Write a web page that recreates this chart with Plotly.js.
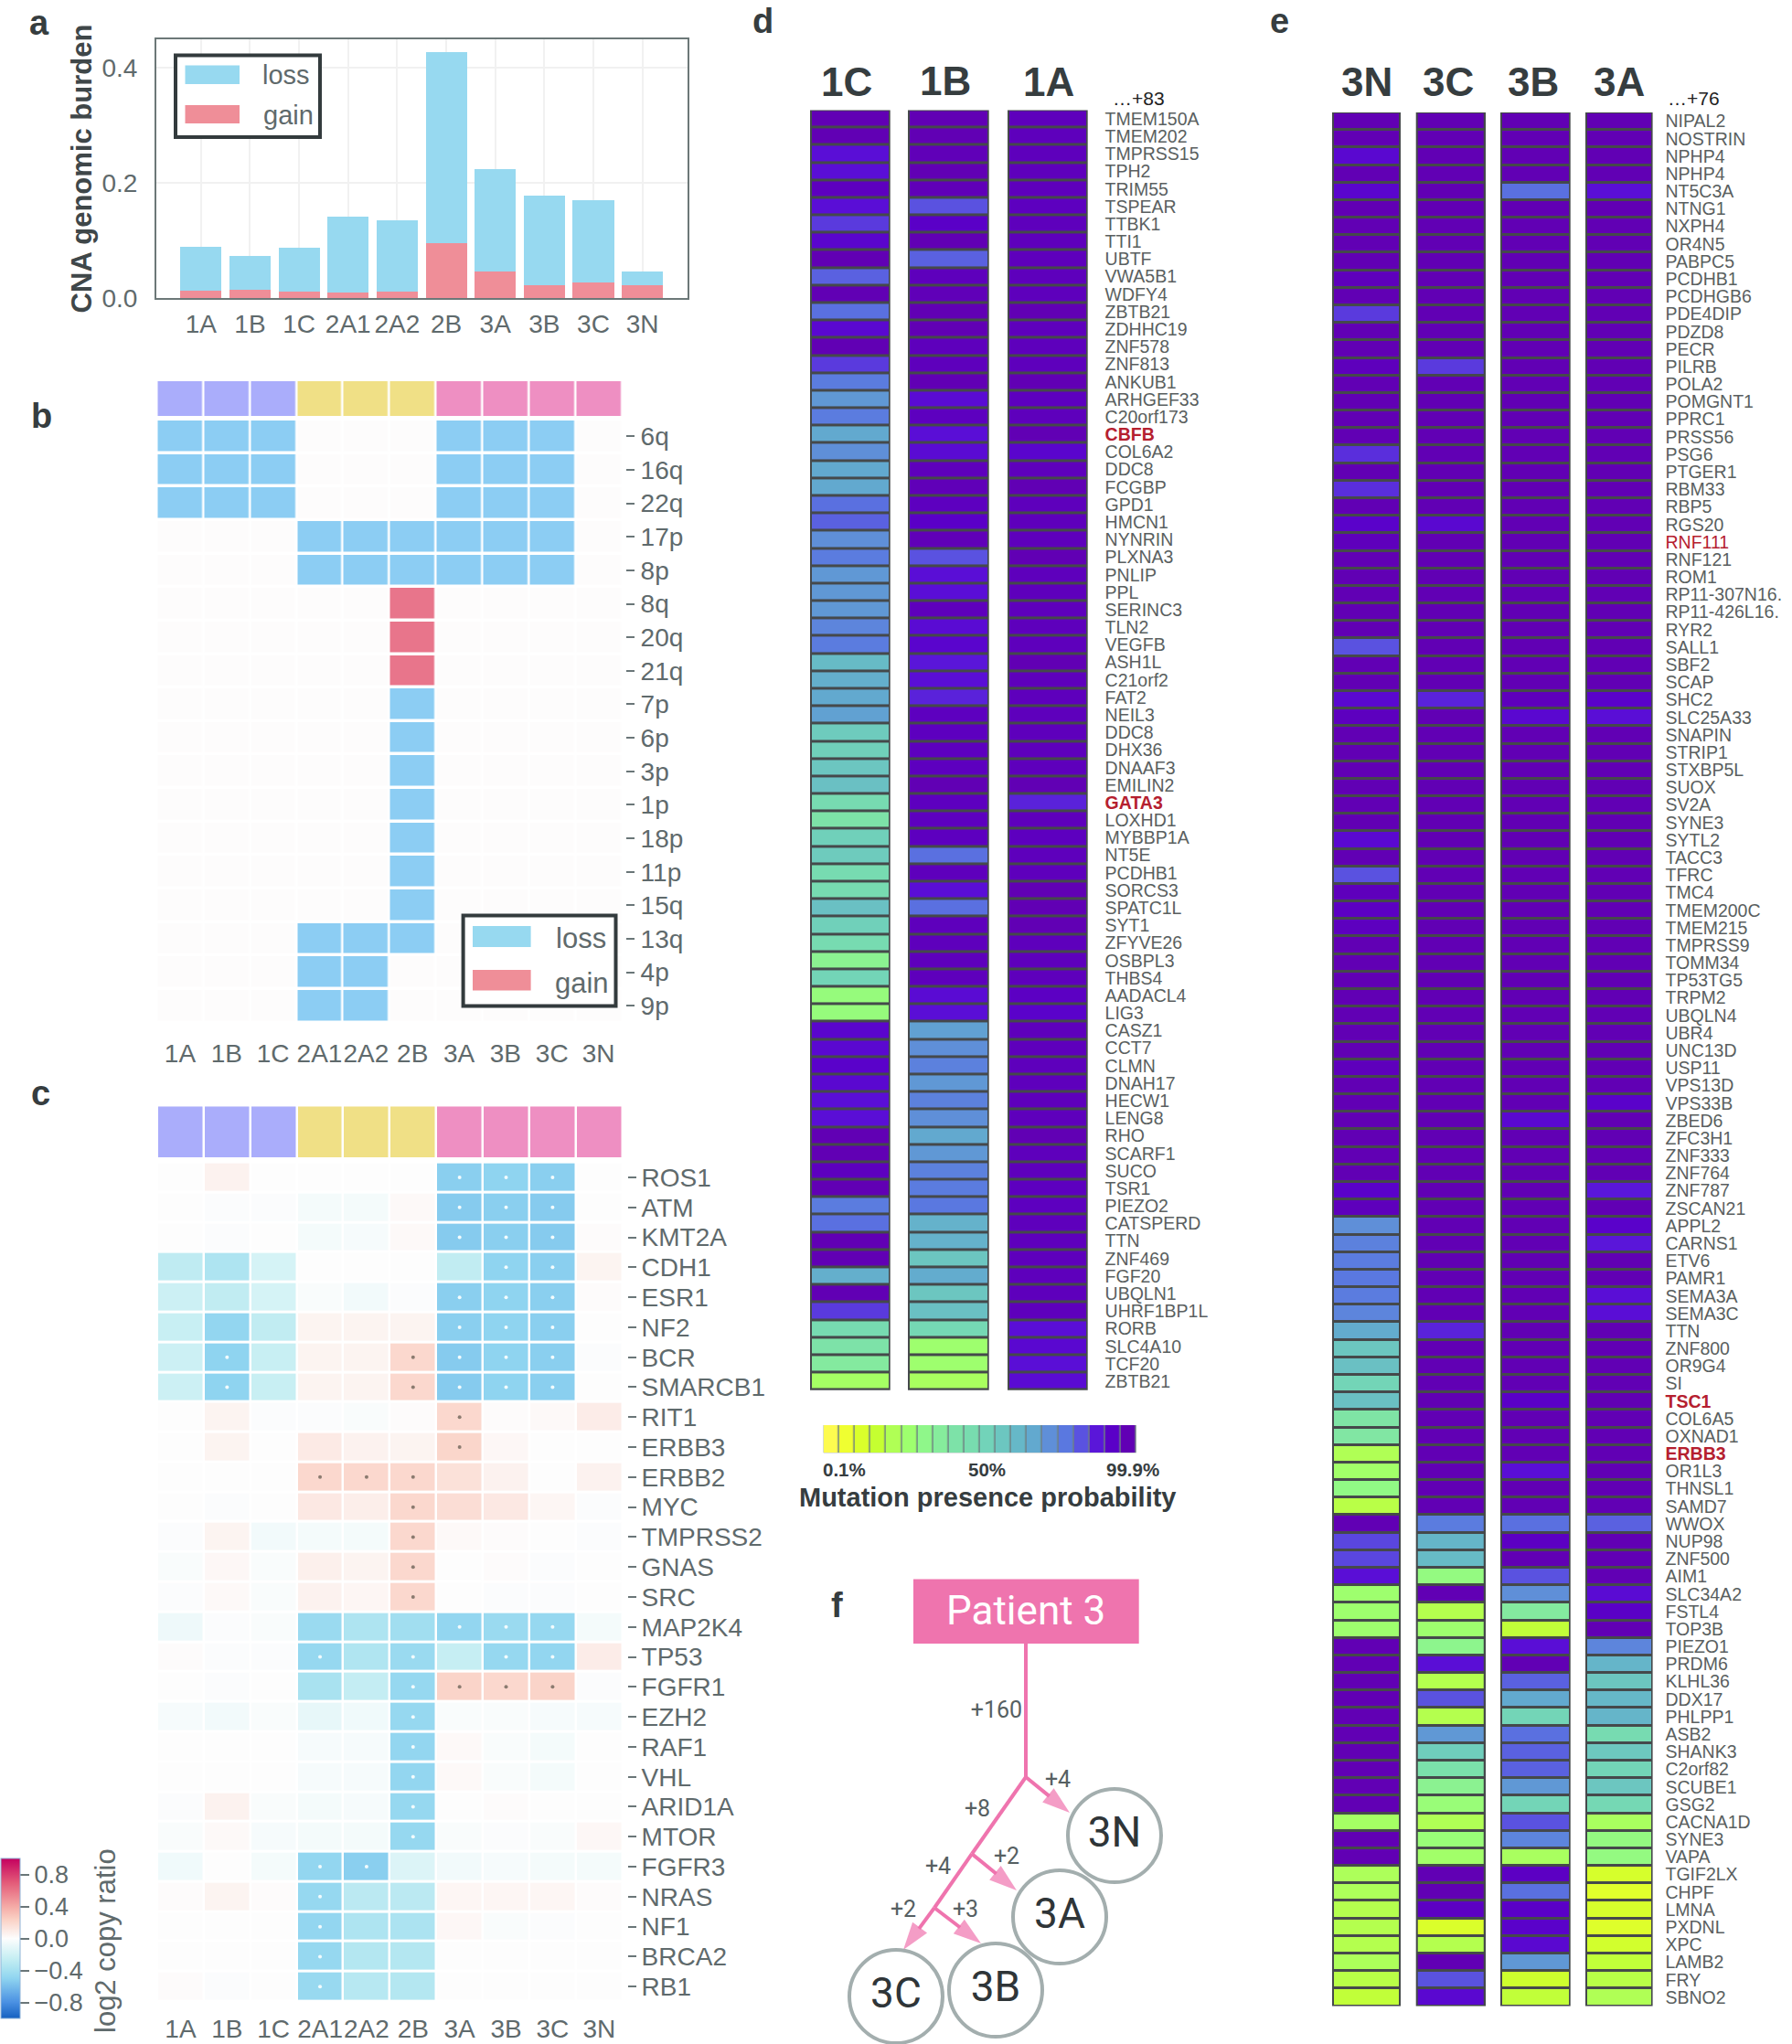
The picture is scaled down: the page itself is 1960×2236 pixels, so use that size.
<!DOCTYPE html>
<html>
<head>
<meta charset="utf-8">
<script src="https://cdn.plot.ly/plotly-3.0.1.min.js"></script>
<style>html,body{margin:0;padding:0;background:#fff}</style>
</head>
<body>
<div id="chart" style="width:1960px;height:2236px"></div>
<script>
const W = 1960, H = 2236;
const FONT = '"Liberation Sans", Arial, sans-serif';
const GREY = '#5f6a6c', DARK = '#363d3f';

// a: CNA burden
const samples = ['1A', '1B', '1C', '2A1', '2A2', '2B', '3A', '3B', '3C', '3N'];
const burdenGain = [0.0125, 0.0138, 0.0113, 0.0094, 0.0113, 0.095, 0.046, 0.0226, 0.027, 0.022];
const burdenLoss = [0.0765, 0.0592, 0.0767, 0.1316, 0.1237, 0.332, 0.178, 0.1544, 0.143, 0.024];

// patient group strip above b and c
const groups = [1, 1, 1, 2, 2, 2, 3, 3, 3, 3];
const groupColors = ['#aaadfb', '#f0e086', '#ee8fc2'];

// b: arm level calls, -1 loss, 1 gain
const arms = ['6q', '16q', '22q', '17p', '8p', '8q', '20q', '21q', '7p', '6p', '3p', '1p', '18p', '11p', '15q', '13q', '4p', '9p'];
const armCalls = [
  [-1, -1, -1, 0, 0, 0, -1, -1, -1, 0],
  [-1, -1, -1, 0, 0, 0, -1, -1, -1, 0],
  [-1, -1, -1, 0, 0, 0, -1, -1, -1, 0],
  [0, 0, 0, -1, -1, -1, -1, -1, -1, 0],
  [0, 0, 0, -1, -1, -1, -1, -1, -1, 0],
  [0, 0, 0, 0, 0, 1, 0, 0, 0, 0],
  [0, 0, 0, 0, 0, 1, 0, 0, 0, 0],
  [0, 0, 0, 0, 0, 1, 0, 0, 0, 0],
  [0, 0, 0, 0, 0, -1, 0, 0, 0, 0],
  [0, 0, 0, 0, 0, -1, 0, 0, 0, 0],
  [0, 0, 0, 0, 0, -1, 0, 0, 0, 0],
  [0, 0, 0, 0, 0, -1, 0, 0, 0, 0],
  [0, 0, 0, 0, 0, -1, 0, 0, 0, 0],
  [0, 0, 0, 0, 0, -1, 0, 0, 0, 0],
  [0, 0, 0, 0, 0, -1, 0, 0, 0, 0],
  [0, 0, 0, -1, -1, -1, 0, 0, 0, 0],
  [0, 0, 0, -1, -1, 0, 0, 0, 0, 0],
  [0, 0, 0, -1, -1, 0, 0, 0, 0, 0]
];

// c: gene level log2 copy ratio
const genes = ['ROS1', 'ATM', 'KMT2A', 'CDH1', 'ESR1', 'NF2', 'BCR', 'SMARCB1', 'RIT1', 'ERBB3', 'ERBB2', 'MYC', 'TMPRSS2', 'GNAS', 'SRC', 'MAP2K4', 'TP53', 'FGFR1', 'EZH2', 'RAF1', 'VHL', 'ARID1A', 'MTOR', 'FGFR3', 'NRAS', 'NF1', 'BRCA2', 'RB1'];
const copyRatio = [
  [0, .06, 0, 0, 0, 0, -.52, -.5, -.52, 0],
  [0, -.01, -.01, -.04, -.04, .02, -.54, -.52, -.54, 0],
  [0, -.01, 0, -.04, -.03, .02, -.54, -.52, -.54, .01],
  [-.28, -.36, -.18, 0, 0, 0, -.27, -.5, -.52, .05],
  [-.22, -.27, -.18, -.02, -.05, -.01, -.52, -.5, -.52, .01],
  [-.24, -.48, -.27, .05, .05, .05, -.52, -.5, -.52, 0],
  [-.22, -.5, -.24, .05, .05, .2, -.54, -.5, -.52, -.01],
  [-.22, -.5, -.24, .05, .05, .2, -.54, -.5, -.52, 0],
  [0, .05, -.01, -.01, -.02, .01, .2, .01, .02, .09],
  [0, .05, 0, .1, .06, .05, .21, .03, 0, 0],
  [0, 0, 0, .2, .2, .2, .15, .06, 0, .06],
  [0, -.01, 0, .11, .08, .2, .17, .11, .04, -.01],
  [-.01, .05, -.05, -.04, -.04, .2, .02, .01, 0, -.01],
  [-.02, .03, -.02, .07, .05, .2, 0, .01, -.01, 0],
  [-.01, .02, -.02, .06, .04, .2, 0, -.01, -.01, 0],
  [-.07, -.01, -.02, -.45, -.36, -.42, -.48, -.45, -.47, -.04],
  [.01, -.01, -.01, -.47, -.35, -.45, -.25, -.47, -.48, .09],
  [0, -.01, 0, -.38, -.26, -.47, .22, .2, .22, -.01],
  [-.03, -.05, -.02, -.1, -.06, -.47, -.02, -.02, -.03, -.03],
  [0, 0, 0, -.03, -.03, -.48, .02, -.02, -.04, 0],
  [0, 0, 0, -.03, -.03, -.48, .02, -.02, -.04, 0],
  [-.01, .06, -.02, -.04, -.03, -.47, 0, .01, 0, 0],
  [-.02, .02, -.03, -.04, -.04, -.47, -.02, -.01, -.02, .03],
  [-.06, 0, -.04, -.48, -.52, -.15, -.05, -.03, -.04, -.04],
  [.01, .05, .01, -.47, -.3, -.3, .04, .04, .04, .01],
  [0, 0, 0, -.48, -.36, -.37, .03, -.02, -.01, 0],
  [0, 0, 0, -.47, -.33, -.33, 0, 0, 0, 0],
  [.01, -.01, 0, -.46, -.32, -.33, 0, 0, 0, 0]
];
// significant cells, per gene the samples holding a dot
const sigGenes = ['ROS1', 'ATM', 'KMT2A', 'CDH1', 'ESR1', 'NF2', 'BCR', 'SMARCB1', 'RIT1', 'ERBB3', 'ERBB2', 'MYC', 'TMPRSS2', 'GNAS', 'SRC', 'MAP2K4', 'TP53', 'FGFR1', 'EZH2', 'RAF1', 'VHL', 'ARID1A', 'MTOR', 'FGFR3', 'NRAS', 'NF1', 'BRCA2', 'RB1'];
const sigSamples = [
  ['3A', '3B', '3C'], ['3A', '3B', '3C'], ['3A', '3B', '3C'], ['3B', '3C'], ['3A', '3B', '3C'], ['3A', '3B', '3C'],
  ['1B', '2B', '3A', '3B', '3C'], ['1B', '2B', '3A', '3B', '3C'], ['3A'], ['3A'], ['2A1', '2A2', '2B'], ['2B'], ['2B'], ['2B'], ['2B'],
  ['3A', '3B', '3C'], ['2A1', '2B', '3B', '3C'], ['2B', '3A', '3B', '3C'], ['2B'], ['2B'], ['2B'], ['2B'], ['2B'],
  ['2A1', '2A2'], ['2A1'], ['2A1'], ['2A1'], ['2A1']
];
const ratioColors = [[0, '#1460c0'], [0.1, '#4a90e2'], [0.25, '#8fd4f0'], [0.3, '#a5e0f0'], [0.38, '#c8eff3'], [0.5, '#fdfdfd'], [0.62, '#fad0c4'], [0.7, '#f4aaa6'], [0.85, '#e35a78'], [1, '#c4005f']];

// d: patient 1 mutations
const genesD = ['TMEM150A', 'TMEM202', 'TMPRSS15', 'TPH2', 'TRIM55', 'TSPEAR', 'TTBK1', 'TTI1', 'UBTF', 'VWA5B1', 'WDFY4', 'ZBTB21', 'ZDHHC19', 'ZNF578', 'ZNF813', 'ANKUB1', 'ARHGEF33', 'C20orf173', '<b><span style="color:#b5202f">CBFB</span></b>', 'COL6A2', 'DDC8', 'FCGBP', 'GPD1', 'HMCN1', 'NYNRIN', 'PLXNA3', 'PNLIP', 'PPL', 'SERINC3', 'TLN2', 'VEGFB', 'ASH1L', 'C21orf2', 'FAT2', 'NEIL3', 'DDC8', 'DHX36', 'DNAAF3', 'EMILIN2', '<b><span style="color:#b5202f">GATA3</span></b>', 'LOXHD1', 'MYBBP1A', 'NT5E', 'PCDHB1', 'SORCS3', 'SPATC1L', 'SYT1', 'ZFYVE26', 'OSBPL3', 'THBS4', 'AADACL4', 'LIG3', 'CASZ1', 'CCT7', 'CLMN', 'DNAH17', 'HECW1', 'LENG8', 'RHO', 'SCARF1', 'SUCO', 'TSR1', 'PIEZO2', 'CATSPERD', 'TTN', 'ZNF469', 'FGF20', 'UBQLN1', 'UHRF1BP1L', 'RORB', 'SLC4A10', 'TCF20', 'ZBTB21'];
const prob1C = [
  100, 100, 90, 90, 97, 90, 86, 93, 100, 82,
  100, 80, 92, 100, 86, 78, 72, 78, 68, 74,
  68, 68, 80, 82, 74, 78, 72, 72, 72, 76,
  78, 62, 66, 68, 70, 56, 54, 58, 60, 48,
  42, 54, 56, 48, 48, 60, 54, 48, 34, 52,
  29, 29, 93, 92, 94, 92, 90, 90, 100, 100,
  97, 100, 78, 80, 100, 100, 66, 100, 86, 48,
  42, 38, 24];
const prob1B = [
  100, 100, 99, 100, 99, 84, 95, 100, 82, 98,
  99, 100, 100, 98, 98, 100, 91, 97, 90, 91,
  98, 99, 97, 95, 99, 84, 90, 90, 98, 91,
  93, 89, 90, 88, 97, 97, 97, 97, 100, 97,
  97, 97, 80, 98, 90, 80, 98, 98, 98, 98,
  91, 90, 70, 74, 77, 72, 77, 74, 68, 72,
  77, 78, 79, 65, 65, 58, 67, 58, 60, 50,
  26, 26, 23];
const prob1A = [
  98, 98, 98, 98, 98, 97, 98, 98, 98, 98,
  98, 100, 98, 98, 98, 100, 97, 98, 100, 93,
  98, 100, 98, 98, 98, 100, 98, 98, 98, 98,
  98, 100, 98, 98, 98, 98, 98, 98, 100, 88,
  98, 97, 98, 98, 100, 100, 100, 98, 98, 98,
  96, 94, 98, 98, 98, 98, 98, 98, 100, 98,
  98, 97, 97, 98, 98, 98, 98, 98, 98, 90,
  92, 90, 91];

// e: patient 3 mutations
const genesE = ['NIPAL2', 'NOSTRIN', 'NPHP4', 'NPHP4', 'NT5C3A', 'NTNG1', 'NXPH4', 'OR4N5', 'PABPC5', 'PCDHB1', 'PCDHGB6', 'PDE4DIP', 'PDZD8', 'PECR', 'PILRB', 'POLA2', 'POMGNT1', 'PPRC1', 'PRSS56', 'PSG6', 'PTGER1', 'RBM33', 'RBP5', 'RGS20', '<span style="color:#b5202f">RNF111</span>', 'RNF121', 'ROM1', 'RP11-307N16.', 'RP11-426L16.', 'RYR2', 'SALL1', 'SBF2', 'SCAP', 'SHC2', 'SLC25A33', 'SNAPIN', 'STRIP1', 'STXBP5L', 'SUOX', 'SV2A', 'SYNE3', 'SYTL2', 'TACC3', 'TFRC', 'TMC4', 'TMEM200C', 'TMEM215', 'TMPRSS9', 'TOMM34', 'TP53TG5', 'TRPM2', 'UBQLN4', 'UBR4', 'UNC13D', 'USP11', 'VPS13D', 'VPS33B', 'ZBED6', 'ZFC3H1', 'ZNF333', 'ZNF764', 'ZNF787', 'ZSCAN21', 'APPL2', 'CARNS1', 'ETV6', 'PAMR1', 'SEMA3A', 'SEMA3C', 'TTN', 'ZNF800', 'OR9G4', 'SI', '<b><span style="color:#b5202f">TSC1</span></b>', 'COL6A5', 'OXNAD1', '<b><span style="color:#b5202f">ERBB3</span></b>', 'OR1L3', 'THNSL1', 'SAMD7', 'WWOX', 'NUP98', 'ZNF500', 'AIM1', 'SLC34A2', 'FSTL4', 'TOP3B', 'PIEZO1', 'PRDM6', 'KLHL36', 'DDX17', 'PHLPP1', 'ASB2', 'SHANK3', 'C2orf82', 'SCUBE1', 'GSG2', 'CACNA1D', 'SYNE3', 'VAPA', 'TGIF2LX', 'CHPF', 'LMNA', 'PXDNL', 'XPC', 'LAMB2', 'FRY', 'SBNO2'];
const prob3N = [
  100, 100, 92, 100, 93, 100, 100, 100, 100, 98,
  100, 86, 100, 100, 98, 100, 100, 100, 100, 87,
  100, 87, 100, 94, 98, 100, 100, 100, 100, 100,
  84, 100, 100, 92, 97, 100, 100, 100, 100, 100,
  100, 92, 100, 84, 98, 96, 97, 100, 100, 100,
  100, 100, 100, 100, 98, 100, 100, 100, 100, 100,
  100, 94, 98, 74, 77, 78, 79, 78, 76, 67,
  58, 60, 52, 60, 41, 40, 21, 25, 31, 19,
  100, 85, 85, 90, 26, 26, 26, 100, 100, 100,
  100, 100, 100, 100, 100, 100, 100, 24, 100, 100,
  22, 22, 20, 20, 20, 22, 19, 17];
const prob3C = [
  100, 100, 100, 100, 100, 100, 100, 100, 100, 100,
  100, 100, 100, 100, 86, 100, 100, 100, 100, 100,
  100, 100, 100, 92, 100, 100, 100, 100, 100, 100,
  100, 100, 100, 88, 100, 100, 100, 100, 100, 100,
  100, 100, 100, 100, 100, 100, 100, 100, 100, 100,
  100, 100, 100, 100, 100, 100, 100, 100, 100, 100,
  100, 100, 100, 100, 100, 100, 100, 100, 100, 88,
  100, 100, 100, 100, 100, 100, 100, 100, 100, 100,
  78, 64, 62, 30, 100, 20, 26, 33, 90, 20,
  84, 20, 72, 55, 44, 34, 28, 21, 28, 25,
  100, 100, 96, 11, 20, 100, 84, 92];
const prob3B = [
  100, 100, 100, 100, 80, 100, 100, 100, 100, 100,
  100, 100, 100, 100, 100, 100, 100, 100, 100, 100,
  100, 100, 100, 100, 100, 100, 100, 100, 100, 100,
  100, 100, 100, 98, 92, 100, 100, 100, 100, 100,
  100, 100, 100, 100, 100, 100, 100, 100, 100, 100,
  100, 100, 100, 100, 100, 100, 100, 92, 100, 100,
  100, 100, 100, 100, 100, 100, 100, 100, 100, 100,
  100, 100, 100, 95, 100, 100, 100, 90, 100, 100,
  80, 96, 100, 84, 74, 38, 17, 90, 100, 82,
  68, 52, 80, 82, 82, 72, 52, 84, 76, 23,
  96, 80, 95, 94, 92, 72, 14, 17];
const prob3A = [
  100, 100, 100, 100, 90, 100, 100, 100, 100, 100,
  100, 100, 100, 100, 100, 100, 100, 100, 100, 100,
  100, 100, 100, 100, 100, 100, 100, 100, 100, 100,
  100, 100, 100, 94, 90, 100, 100, 100, 100, 100,
  100, 100, 100, 100, 100, 100, 100, 100, 100, 100,
  100, 100, 100, 100, 100, 100, 94, 100, 100, 100,
  100, 89, 100, 94, 89, 100, 100, 90, 90, 100,
  100, 100, 100, 100, 100, 100, 100, 100, 100, 100,
  82, 100, 100, 100, 91, 95, 100, 76, 64, 58,
  63, 64, 48, 57, 52, 58, 50, 23, 30, 30,
  12, 9, 12, 10, 13, 17, 19, 21];

// probability colour key, 20 boxes from 0.1% to 99.9%
const probColors = ['#fdfb4f', '#eeff2f', '#dcff2b', '#c6ff30', '#b0ff55', '#9dff70', '#90f888', '#86ec9c', '#7de2a8', '#78dcb0', '#72d4b8', '#6cc6c0', '#66b8c8', '#62a8d0', '#5f90d8', '#5a78e0', '#5a50e0', '#5a10d8', '#5a00c8', '#6100b4'];
const probKey = [0, 5, 11, 16, 21, 26, 32, 37, 42, 47, 53, 58, 63, 68, 74, 79, 84, 89, 95, 100];
const probScale = probColors.map((c, i) => [i / 19, c]);

// f: phylogeny of patient 3, drawn on its own axes
const branchX = [[1122, 1122], [1122, 1170], [1122, 1063], [1063, 1112], [1063, 1022], [1022, 1073], [1022, 988]];
const branchY = [[1798, 1944], [1944, 1983], [1944, 2028], [2028, 2068], [2028, 2087], [2087, 2126], [2087, 2133]];
const branchArrow = [0, 1, 0, 1, 0, 1, 1];
const branchLabelX = [1090, 1157, 1069, 1101, 1026, 988, 1056];
const branchLabelY = [1873, 1949, 1981, 2033, 2044, 2091, 2091];
const branchLabels = ['+160', '+4', '+8', '+2', '+4', '+2', '+3'];
const nodeX = [1219, 1159, 1089, 980];
const nodeY = [2008, 2097, 2177, 2184];
const nodeNames = ['3N', '3A', '3B', '3C'];

// px helpers, the page has no margins
const domX = (a, b) => [a / W, b / W];
const domY = (a, b) => [1 - b / H, 1 - a / H];
const annotations = [];
const shapes = [];
function note(text, x, y, size, color, extra) {
  annotations.push(Object.assign({
    text: text, x: x / W, y: 1 - y / H, xref: 'paper', yref: 'paper', showarrow: false,
    xanchor: 'center', yanchor: 'middle', font: { family: FONT, size: size, color: color }
  }, extra || {}));
}
function rect(x0, y0, x1, y1, fill, lineColor, lineWidth, layer) {
  shapes.push({
    type: 'rect', xref: 'paper', yref: 'paper', x0: x0 / W, x1: x1 / W, y0: 1 - y0 / H, y1: 1 - y1 / H,
    fillcolor: fill, line: { color: lineColor || 'rgba(0,0,0,0)', width: lineWidth || 0 }, layer: layer || 'above'
  });
}
function hiddenAxis(dom, anchor, range) {
  return { domain: dom, anchor: anchor, range: range, visible: false, fixedrange: true };
}
const tickFont = { family: FONT, size: 28, color: GREY };
function sampleAxis(dom, anchor, ticklen) {
  return {
    domain: dom, anchor: anchor, type: 'category', categoryorder: 'array', categoryarray: samples, range: [-0.5, 9.5],
    tickangle: 0, ticks: 'outside', ticklen: ticklen, tickcolor: 'rgba(0,0,0,0)', tickfont: tickFont, showgrid: false, zeroline: false, showline: false
  };
}
function rowAxis(dom, position, labels, standoff) {
  return {
    domain: dom, anchor: 'free', position: position, side: 'right', type: 'category', categoryorder: 'array', categoryarray: labels,
    range: [labels.length - 0.5, -0.5], ticks: 'outside', ticklen: 9, tickwidth: 2, tickcolor: '#6a7678', tickfont: tickFont,
    ticklabelstandoff: standoff, showgrid: false, zeroline: false, showline: false, tickmode: 'array', tickvals: labels, ticktext: labels
  };
}

const traces = [];
const layout = {
  width: W, height: H, margin: { l: 0, r: 0, t: 0, b: 0 }, paper_bgcolor: '#fff', plot_bgcolor: 'rgba(0,0,0,0)',
  showlegend: false, barmode: 'stack', font: { family: FONT }
};

// panel a
traces.push({ type: 'bar', name: 'gain', x: samples, y: burdenGain, width: 0.84, marker: { color: '#ef8e98' }, xaxis: 'x', yaxis: 'y' });
traces.push({ type: 'bar', name: 'loss', x: samples, y: burdenLoss, width: 0.84, marker: { color: '#97d9f0' }, xaxis: 'x', yaxis: 'y' });
layout.xaxis = {
  domain: domX(171, 752), anchor: 'y', type: 'category', categoryorder: 'array', categoryarray: samples, range: [-0.91, 9.92],
  tickangle: 0, ticks: 'outside', ticklen: 2, tickcolor: 'rgba(0,0,0,0)', tickfont: tickFont,
  showgrid: true, gridcolor: '#f1f1f1', gridwidth: 2, showline: true, mirror: true, linecolor: '#6c7878', linewidth: 2
};
layout.yaxis = {
  domain: domY(43, 326), anchor: 'x', range: [0, 0.449], tickvals: [0, 0.2, 0.4], tickformat: '.1f',
  ticks: 'outside', ticklen: 13, tickcolor: 'rgba(0,0,0,0)', tickfont: tickFont, gridcolor: '#f1f1f1', gridwidth: 2,
  zeroline: false, showline: true, mirror: true, linecolor: '#6c7878', linewidth: 2,
  title: { text: '<b>CNA genomic burden</b>', font: { family: FONT, size: 31, color: '#3f4749' }, standoff: 2 }
};

// panel b
const groupZ = [groups];
const groupScale = [[0, groupColors[0]], [0.5, groupColors[1]], [1, groupColors[2]]];
traces.push({ type: 'heatmap', x: samples, y: ['group'], z: groupZ, zmin: 1, zmax: 3, colorscale: groupScale, showscale: false, xgap: 2.5, xaxis: 'x2', yaxis: 'y2' });
layout.xaxis2 = hiddenAxis(domX(171.5, 680), 'y2', [-0.5, 9.5]);
layout.yaxis2 = hiddenAxis(domY(417, 455), 'x2', [-0.5, 0.5]);
traces.push({
  type: 'heatmap', x: samples, y: arms, z: armCalls, zmin: -1, zmax: 1, showscale: false, xgap: 2.5, ygap: 3.5,
  colorscale: [[0, '#8ccdf3'], [0.5, '#fdfcfc'], [1, '#e8758b']], xaxis: 'x3', yaxis: 'y3'
});
layout.xaxis3 = sampleAxis(domX(171.5, 680), 'y3', 9);
layout.yaxis3 = rowAxis(domY(459, 1118.6), 684 / W, arms, 1);

// panel c
traces.push({ type: 'heatmap', x: samples, y: ['group'], z: groupZ, zmin: 1, zmax: 3, colorscale: groupScale, showscale: false, xgap: 2.5, xaxis: 'x4', yaxis: 'y4' });
layout.xaxis4 = hiddenAxis(domX(172, 680.7), 'y4', [-0.5, 9.5]);
layout.yaxis4 = hiddenAxis(domY(1210.3, 1266), 'x4', [-0.5, 0.5]);
traces.push({
  type: 'heatmap', x: samples, y: genes, z: copyRatio, zmin: -1, zmax: 1, colorscale: ratioColors, xgap: 2.5, ygap: 3, xaxis: 'x5', yaxis: 'y5',
  colorbar: {
    x: 1 / W, xanchor: 'left', y: 1 - 2033 / H, yanchor: 'top', len: 175 / H, lenmode: 'fraction', thickness: 21, thicknessmode: 'pixels',
    xpad: 0, ypad: 0, outlinewidth: 1, outlinecolor: '#8fb4d8', tickvals: [-0.8, -0.4, 0, 0.4, 0.8], tickformat: '.1f', ticks: 'outside', ticklen: 10, tickwidth: 2,
    tickcolor: '#6a7678', tickfont: { family: FONT, size: 27, color: GREY }
  }
});
layout.xaxis5 = sampleAxis(domX(172, 680.7), 'y5', 5);
layout.yaxis5 = rowAxis(domY(1271.6, 2189.6), 686 / W, genes, 0);
const dotX = [], dotY = [], dotColor = [];
sigGenes.forEach((g, i) => sigSamples[i].forEach(s => {
  dotX.push(s); dotY.push(g);
  dotColor.push(copyRatio[genes.indexOf(g)][samples.indexOf(s)] < 0 ? '#f2fbfd' : '#8b7b70');
}));
traces.push({ type: 'scatter', mode: 'markers', x: dotX, y: dotY, marker: { size: 4, color: dotColor }, xaxis: 'x5', yaxis: 'y5' });

// panel d and e columns share one row axis per panel
function probColumn(values, axisNum, rowAxisName, x0, x1, y0, y1) {
  traces.push({
    type: 'heatmap', z: values.map(v => [v]), x0: 0, dx: 1, y0: 0, dy: 1, zmin: 0, zmax: 100, colorscale: probScale, showscale: false,
    xgap: 4, ygap: 3, xaxis: 'x' + axisNum, yaxis: rowAxisName
  });
  layout['xaxis' + axisNum] = hiddenAxis(domX(x0, x1), rowAxisName, [-0.5, 0.5]);
  rect(x0, y0, x1, y1, '#45494b', null, 0, 'below');
}
const geneFont = { family: FONT, size: 19.5, color: '#5a5f60' };
function geneAxis(dom, anchor, labels, ticklen) {
  return {
    domain: dom, anchor: anchor, side: 'right', range: [labels.length - 0.5, -0.5], tickmode: 'array', tickvals: labels.map((_, i) => i), ticktext: labels,
    ticks: 'outside', ticklen: ticklen, tickcolor: 'rgba(0,0,0,0)', tickfont: geneFont, showgrid: false, zeroline: false, showline: false
  };
}
const dTop = 120.4, dBottom = 1520.7, eTop = 123, eBottom = 2194.5;
probColumn(prob1C, 6, 'y6', 886, 973.7, dTop, dBottom);
probColumn(prob1B, 7, 'y6', 993, 1081.7, dTop, dBottom);
probColumn(prob1A, 8, 'y6', 1102, 1189.7, dTop, dBottom);
layout.yaxis6 = geneAxis(domY(dTop, dBottom), 'x8', genesD, 14);
probColumn(prob3N, 9, 'y7', 1457, 1532, eTop, eBottom);
probColumn(prob3C, 10, 'y7', 1548.7, 1625, eTop, eBottom);
probColumn(prob3B, 11, 'y7', 1641, 1717.7, eTop, eBottom);
probColumn(prob3A, 12, 'y7', 1734, 1807.6, eTop, eBottom);
layout.yaxis7 = geneAxis(domY(eTop, eBottom), 'x12', genesE, 9);

// probability key
traces.push({ type: 'heatmap', z: [probKey], x0: 0, dx: 1, y0: 0, dy: 1, zmin: 0, zmax: 100, colorscale: probScale, showscale: false, xgap: 1.5, xaxis: 'x13', yaxis: 'y8' });
layout.xaxis13 = hiddenAxis(domX(900.7, 1242.7), 'y8', [-0.5, 19.5]);
layout.yaxis8 = hiddenAxis(domY(1559, 1589.3), 'x13', [-0.5, 0.5]);
rect(900.7, 1559, 1242.7, 1589.3, '#6f8082', null, 0, 'below');

// panel f
layout.xaxis14 = hiddenAxis(domX(860, 1330), 'y9', [860, 1330]);
layout.yaxis9 = hiddenAxis(domY(1700, 2236), 'x14', [2236, 1700]);
branchX.forEach((xs, i) => {
  traces.push({
    type: 'scatter', mode: 'lines+markers', x: xs, y: branchY[i], line: { color: '#ef74ae', width: 4 },
    marker: { symbol: 'arrow', angleref: 'previous', size: [0, branchArrow[i] ? 32 : 0], color: '#ef74ae', line: { width: 0 } },
    cliponaxis: false, xaxis: 'x14', yaxis: 'y9'
  });
});
traces.push({
  type: 'scatter', mode: 'text', x: branchLabelX, y: branchLabelY, text: branchLabels, textposition: 'middle center',
  textfont: { family: 'Roboto', size: 25, color: '#566062' }, cliponaxis: false, xaxis: 'x14', yaxis: 'y9'
});
traces.push({
  type: 'scatter', mode: 'markers+text', x: nodeX, y: nodeY, text: nodeNames, textposition: 'middle center',
  textfont: { family: 'Roboto', size: 46, color: '#2f3538' }, cliponaxis: false,
  marker: { size: 102, color: '#fff', line: { color: '#a3aeae', width: 4 } }, xaxis: 'x14', yaxis: 'y9'
});
rect(999, 1727.5, 1245.7, 1798, '#ef74ae');
note('Patient 3', 1122.3, 1762, 44, '#fff', { font: { family: 'Roboto', size: 44, color: '#fff' } });

// panel a legend
rect(192, 60.5, 350, 150, '#fff', '#333b3d', 4);
rect(202.5, 71.5, 262, 92, '#97d9f0');
rect(202.5, 115, 262, 135, '#ef8e98');
note('loss', 313, 82, 29, GREY);
note('gain', 315, 126, 29, GREY);

// panel b legend
rect(506.6, 1001.4, 673.5, 1100.4, '#fff', '#333b3d', 4);
rect(517, 1013, 580.6, 1036, '#97d9f0');
rect(517, 1061, 580.6, 1083.6, '#ef8e98');
note('loss', 635, 1026, 31, GREY);
note('gain', 636, 1076, 31, GREY);

// colour bar title
note('log2 copy ratio', 115, 2123, 31, GREY, { textangle: -90 });

// panel letters
const letterFont = 38;
note('<b>a</b>', 43, 25, letterFont, DARK);
note('<b>b</b>', 45, 455, letterFont, DARK);
note('<b>c</b>', 44, 1196, letterFont, DARK);
note('<b>d</b>', 834, 23, letterFont, DARK);
note('<b>e</b>', 1399, 23, letterFont, DARK);
note('<b>f</b>', 915, 1756, letterFont, DARK);

// column heads
[['1C', 926, 89], ['1B', 1034, 88], ['1A', 1147, 90], ['3N', 1495, 90], ['3C', 1583.5, 90], ['3B', 1677, 90], ['3A', 1771, 90]].forEach(h => note('<b>' + h[0] + '</b>', h[1], h[2], 44, DARK));
note('…+83', 1245, 108, 21, '#222');
note('…+76', 1852, 108, 21, '#222');

// probability key text
note('<b>0.1%</b>', 923, 1607, 20.5, DARK);
note('<b>50%</b>', 1079, 1607, 20.5, DARK);
note('<b>99.9%</b>', 1239, 1607, 20.5, DARK);
note('<b>Mutation presence probability</b>', 1080, 1638, 29, DARK);

layout.annotations = annotations;
layout.shapes = shapes;

Plotly.newPlot('chart', traces, layout, { staticPlot: true, displayModeBar: false });
</script>
</body>
</html>
